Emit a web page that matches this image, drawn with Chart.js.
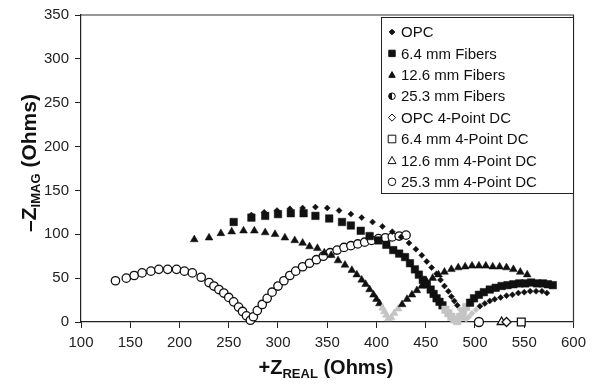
<!DOCTYPE html>
<html lang="en">
<head>
<meta charset="UTF-8" />
<title>Impedance - Nyquist</title>
<script src="https://cdn.jsdelivr.net/npm/chart.js"></script>
<style>
  html, body { margin: 0; padding: 0; background: #fff; }
  #wrap { width: 592px; height: 390px; }
</style>
</head>
<body>

<div id="wrap"><canvas id="grafico" width="592" height="390"></canvas></div>

<script>
  // [Z real, -Z imag] in Ohms
  const opcFibers = [
    [273,122],[286,125],[299,127],[312,129],[325,130],[338,131],[350,130],[362,127],[374,123],[385,119],
    [396,114],[406,109],[416,103],[425,97],[433,90],[440,83],[446,76],[451,69],[456,62],[461,55],
    [465,48],[469,41],[473,35],[476,29],[479,24],[482,19],[485,14],[487,10],[489,6],[491,3],
    [494,6],[497,10],[501,14],[505,18],[510,21],[515,24],[520,26],[526,28],[532,30],[538,31],
    [544,33],[550,34],[556,35],[562,35],[568,35],[573,33]
  ];
  const fibers64 = [
    [255,114],[273,119],[287,121],[300,123],[313,124],[326,124],[338,121],[352,118],[365,114],[374,110],
    [384,104],[393,98],[402,93],[410,88],[417,82],[423,78],[429,74],[434,67],[439,60],[443,54],
    [447,48],[451,43],[455,37],[458,32],[461,27],[464,23],[467,19],[470,14],[473,10],[476,6],
    [479,3],[482,1],
    [485,6],[488,12],[491,17],[495,22],[499,27],[504,31],[509,34],[515,37],[521,39],[527,41],
    [533,42],[539,43],[545,44],[551,44],[557,45],[563,44],[569,44],[574,43],[579,42]
  ];
  const fibers126 = [
    [215,94],[230,96],[242,101],[253,103],[265,104],[276,104],[287,102],[297,100],[307,96],[317,93],
    [325,90],[332,86],[340,84],[347,79],[354,76],[361,70],[368,65],[375,59],[380,54],[385,48],
    [389,43],[393,37],[397,31],[400,26],[403,21],[406,16],[408,12],[410,8],[412,4],
    [415,5],[418,10],[422,15],[426,20],[431,26],[436,31],[441,36],[446,41],[451,46],[457,50],
    [463,54],[469,57],[476,60],[483,62],[490,63],[497,64],[504,64],[511,64],[518,63],[525,63],
    [532,62],[539,60],[546,57],[553,54]
  ];
  const fibers253 = [
    [135,47],[146,50],[154,53],[162,56],[171,58],[179,60],[188,60],[197,60],[205,58],[213,56],
    [222,51],[230,45],[235,41],[240,37],[245,33],[250,28],[255,23],[260,17],[264,12],[268,7],
    [272,2],
    [275,6],[279,13],[284,20],[289,27],[294,34],[300,41],[306,47],[312,53],[318,58],[325,63],
    [332,67],[339,71],[346,75],[353,79],[360,82],[367,85],[374,87],[381,89],[388,91],[395,93],
    [402,95],[409,96],[416,97],[423,98],[430,99]
  ];
  // 4-point DC resistance, one value each
  const dcOpc = [[532,0]];
  const dc64 = [[547,0]];
  const dc126 = [[527,0]];
  const dc253 = [[504,0]];

  const nomes = [
    "OPC", "6.4 mm Fibers", "12.6 mm Fibers", "25.3 mm Fibers",
    "OPC 4-Point DC", "6.4 mm 4-Point DC", "12.6 mm 4-Point DC", "25.3 mm 4-Point DC"
  ];
  const xTicks = [100, 150, 200, 250, 300, 350, 400, 450, 500, 550, 600];
  const yTicks = [0, 50, 100, 150, 200, 250, 300, 350];

  const FONTE = 'Arial, "Liberation Sans", sans-serif';
  const PRETO = '#111';

  const pts = arr => arr.map(p => ({ x: p[0], y: p[1] }));

  // the scan washes out the points near the real axis on the right side
  const corPonto = c => {
    const p = c.raw;
    if (p && p.x > 400 && p.y < 18) return '#c4c4c4';
    return PRETO;
  };

  function cheio(label, data, estilo, raio) {
    return {
      label, data: pts(data), pointStyle: estilo, pointRadius: raio,
      pointBackgroundColor: corPonto, pointBorderColor: corPonto, pointBorderWidth: 0.5,
      showLine: false, clip: false
    };
  }
  function vazio(label, data, estilo, raio) {
    return {
      label, data: pts(data), pointStyle: estilo, pointRadius: raio,
      pointBackgroundColor: '#fff', pointBorderColor: PRETO, pointBorderWidth: 1.3,
      showLine: false, clip: false
    };
  }

  // draws one marker for the legend
  function marca(ctx, estilo, x, y, r, preenchido) {
    ctx.beginPath();
    if (estilo === 'rectRot') {
      ctx.moveTo(x, y - r); ctx.lineTo(x + r, y); ctx.lineTo(x, y + r); ctx.lineTo(x - r, y);
      ctx.closePath();
    } else if (estilo === 'rect') {
      ctx.rect(x - r, y - r, 2 * r, 2 * r);
    } else if (estilo === 'triangle') {
      ctx.moveTo(x, y - r); ctx.lineTo(x + r, y + r * 0.8); ctx.lineTo(x - r, y + r * 0.8);
      ctx.closePath();
    } else {
      ctx.arc(x, y, r, 0, Math.PI * 2);
    }
    ctx.lineWidth = 1;
    ctx.strokeStyle = PRETO;
    ctx.fillStyle = preenchido ? PRETO : '#fff';
    ctx.fill();
    ctx.stroke();
  }

  const legendaPlugin = {
    id: 'legendaDentro',
    afterDraw(chart) {
      const ctx = chart.ctx;
      ctx.save();
      const bx = 381, by = 17, bw = 192, bh = 176;
      ctx.fillStyle = '#fff';
      ctx.fillRect(bx, by, bw, bh);
      ctx.strokeStyle = '#222';
      ctx.lineWidth = 1;
      ctx.strokeRect(bx + 0.5, by + 0.5, bw, bh);

      const estilos = [
        ['rectRot', 2.8, true], ['rect', 3.2, true], ['triangle', 3.2, true], ['circle', 3.3, true],
        ['rectRot', 3.6, false], ['rect', 3.8, false], ['triangle', 4, false], ['circle', 3.8, false]
      ];
      ctx.font = '15px ' + FONTE;
      ctx.textBaseline = 'middle';
      nomes.forEach((n, i) => {
        const y = 32 + i * 21.4;
        const e = estilos[i];
        if (i === 3) {
          // half shaded circle
          marca(ctx, 'circle', 392, y, e[1], false);
          ctx.beginPath();
          ctx.arc(392, y, e[1], Math.PI * 0.5, Math.PI * 1.5);
          ctx.fillStyle = PRETO;
          ctx.fill();
        } else {
          marca(ctx, e[0], 392, y, e[1], e[2]);
        }
        ctx.fillStyle = PRETO;
        ctx.fillText(n, 401, y + 1);
      });
      ctx.restore();
    }
  };

  const molduraPlugin = {
    id: 'moldura',
    beforeDatasetsDraw(chart) {
      const a = chart.chartArea, ctx = chart.ctx;
      ctx.save();
      ctx.strokeStyle = '#333';
      ctx.lineWidth = 1.2;
      ctx.beginPath();
      ctx.moveTo(a.left, a.top); ctx.lineTo(a.right, a.top); ctx.lineTo(a.right, a.bottom);
      ctx.stroke();
      ctx.restore();
    }
  };

  // axis titles with subscripts
  function tituloSub(ctx, partes, cx, cy) {
    let total = 0;
    partes.forEach(p => { ctx.font = 'bold ' + p.t + 'px ' + FONTE; p.w = ctx.measureText(p.s).width; total += p.w; });
    let x = cx - total / 2;
    partes.forEach(p => {
      ctx.font = 'bold ' + p.t + 'px ' + FONTE;
      ctx.fillText(p.s, x, cy + (p.d || 0));
      x += p.w;
    });
  }

  const titulosPlugin = {
    id: 'titulos',
    afterDraw(chart) {
      const ctx = chart.ctx;
      ctx.save();
      ctx.fillStyle = PRETO;
      ctx.textBaseline = 'alphabetic';
      ctx.textAlign = 'left';
      tituloSub(ctx, [
        { s: '+Z', t: 20 }, { s: 'REAL', t: 13, d: 4 }, { s: ' (Ohms)', t: 20 }
      ], 326, 374);
      ctx.translate(36, 163);
      ctx.rotate(-Math.PI / 2);
      tituloSub(ctx, [
        { s: '\u2013Z', t: 21 }, { s: 'IMAG', t: 13, d: 4 }, { s: ' (Ohms)', t: 21 }
      ], 0, 0);
      ctx.restore();
    }
  };

  const eixo = {
    grid: { drawOnChartArea: false, tickLength: 6, color: '#222', lineWidth: 1 },
    border: { color: '#222', width: 1.2 },
  };

  new Chart(document.getElementById('grafico'), {
    type: 'scatter',
    data: {
      datasets: [
        cheio(nomes[0], opcFibers, 'rectRot', 3),
        cheio(nomes[1], fibers64, 'rect', 5.3),
        cheio(nomes[2], fibers126, 'triangle', 4.5),
        vazio(nomes[3], fibers253, 'circle', 4.2),
        vazio(nomes[4], dcOpc, 'rectRot', 4.5),
        vazio(nomes[5], dc64, 'rect', 5.5),
        vazio(nomes[6], dc126, 'triangle', 5),
        vazio(nomes[7], dc253, 'circle', 4.5)
      ]
    },
    options: {
      responsive: false,
      animation: false,
      devicePixelRatio: 1,
      layout: { padding: { left: 0, top: 13, right: 14, bottom: 0 } },
      plugins: { legend: { display: false }, tooltip: { enabled: false } },
      scales: {
        x: {
          type: 'linear', min: xTicks[0], max: xTicks[xTicks.length - 1],
          afterBuildTicks: s => { s.ticks = xTicks.map(v => ({ value: v })); },
          afterFit: s => { s.height = 68; },
          ticks: { font: { size: 15, family: FONTE }, color: '#222', padding: 6, maxRotation: 0 },
          ...eixo
        },
        y: {
          type: 'linear', min: yTicks[0], max: yTicks[yTicks.length - 1],
          afterBuildTicks: s => { s.ticks = yTicks.map(v => ({ value: v })); },
          afterFit: s => { s.width = 81; },
          ticks: { font: { size: 15, family: FONTE }, color: '#222', padding: 6 },
          ...eixo
        }
      }
    },
    plugins: [molduraPlugin, legendaPlugin, titulosPlugin]
  });
</script>

</body>
</html>
